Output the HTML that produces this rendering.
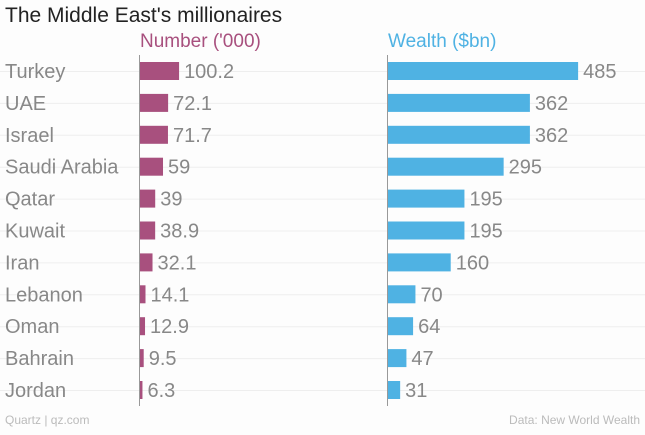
<!DOCTYPE html>
<html><head><meta charset="utf-8"><style>
body{margin:0;background:#fdfdfd;width:645px;height:430px;overflow:hidden;font-family:"Liberation Sans",sans-serif;}
svg text{font-family:"Liberation Sans",sans-serif;}
</style></head><body>
<svg id="c" width="645" height="430">
<text x="5" y="22" font-size="21" fill="#222">The Middle East's millionaires</text>
<text x="140" y="47" font-size="19" fill="#a8507e">Number ('000)</text>
<text x="388" y="47" font-size="19" fill="#4fb2e3">Wealth ($bn)</text>
<g id="grid"></g><g id="bars"></g>
<line x1="139.5" y1="55" x2="139.5" y2="406" stroke="#999"/>
<line x1="387.5" y1="55" x2="387.5" y2="406" stroke="#999"/>
<text x="5" y="424" font-size="12" fill="#bbb">Quartz | qz.com</text>
<text x="640" y="424" font-size="12" fill="#bbb" text-anchor="end">Data: New World Wealth</text>
</svg>
<script>
const countries=["Turkey","UAE","Israel","Saudi Arabia","Qatar","Kuwait","Iran","Lebanon","Oman","Bahrain","Jordan"];
const numberLabels=["100.2","72.1","71.7","59","39","38.9","32.1","14.1","12.9","9.5","6.3"];
const numberValues=[100.2,72.1,71.7,59,39,38.9,32.1,14.1,12.9,9.5,6.3];
const wealthValues=[485,362,362,295,195,195,160,70,64,47,31];
const NS="http://www.w3.org/2000/svg";
const yC=i=>71+i*31.9;
const xN=v=>140+v*0.39;
const xW=v=>388+v*0.392;
const grid=document.getElementById('grid'),bars=document.getElementById('bars');
function mk(tag,attrs,parent){const e=document.createElementNS(NS,tag);for(const k in attrs)e.setAttribute(k,attrs[k]);parent.appendChild(e);return e;}
countries.forEach((c,i)=>{
  const y=yC(i);
  const g=mk('line',{x1:0,x2:645,y1:y+0.5,y2:y+0.5,stroke:'#eee'},grid);
  
  
  const t=mk('text',{x:5,y:y+7,'font-size':20,fill:'#888'},bars);t.textContent=c;
  
  
  const b1=mk('rect',{x:140,y:y-9,width:xN(numberValues[i])-140,height:18,fill:'#a8507e'},bars);
  
  
  const l1=mk('text',{x:xN(numberValues[i])+5,y:y+7,'font-size':20,fill:'#888'},bars);l1.textContent=numberLabels[i];
  
  
  const b2=mk('rect',{x:388,y:y-9,width:xW(wealthValues[i])-388,height:18,fill:'#4fb2e3'},bars);
  
  
  const l2=mk('text',{x:xW(wealthValues[i])+5,y:y+7,'font-size':20,fill:'#888'},bars);l2.textContent=String(wealthValues[i]);
  
  
});
</script>
</body></html>
